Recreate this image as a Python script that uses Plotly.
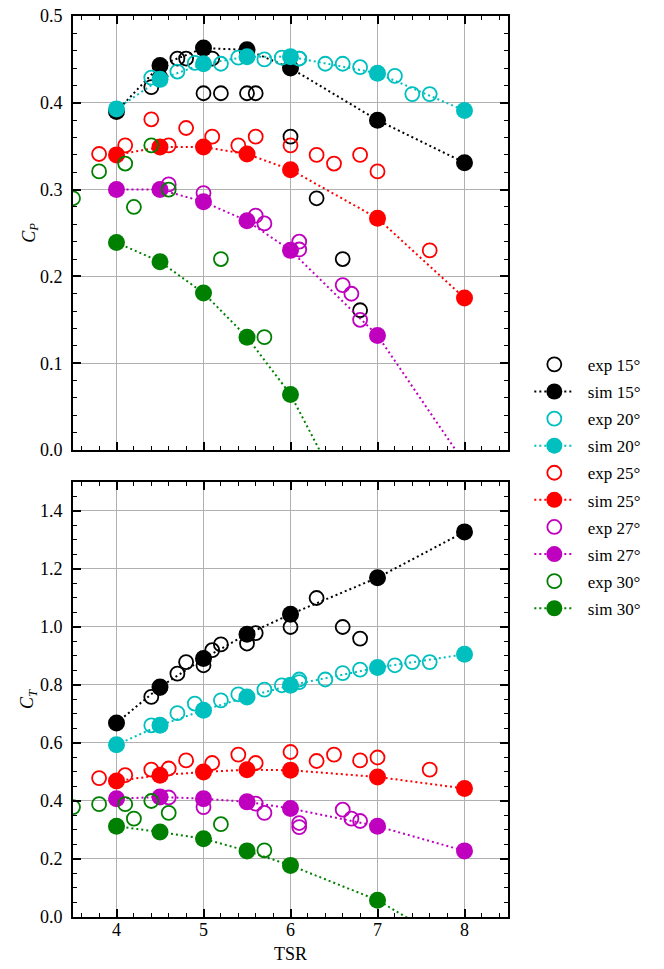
import plotly.graph_objects as go

# ---------------- data ----------------
tsr_sim = [4, 4.5, 5, 5.5, 6, 7, 8]
cp_sim15 = [0.390, 0.443, 0.463, 0.461, 0.440, 0.380, 0.331]
ct_sim15 = [0.669, 0.793, 0.891, 0.975, 1.044, 1.170, 1.328]
cp_sim20 = [0.393, 0.427, 0.445, 0.453, 0.453, 0.434, 0.391]
ct_sim20 = [0.594, 0.661, 0.713, 0.759, 0.799, 0.860, 0.906]
cp_sim25 = [0.340, 0.349, 0.349, 0.341, 0.323, 0.267, 0.175]
ct_sim25 = [0.469, 0.489, 0.500, 0.508, 0.506, 0.483, 0.443]
cp_sim27 = [0.300, 0.300, 0.286, 0.264, 0.230, 0.132, -0.015]
ct_sim27 = [0.408, 0.414, 0.408, 0.397, 0.374, 0.313, 0.228]
cp_sim30 = [0.239, 0.217, 0.181, 0.130, 0.064, -0.128, -0.35]
ct_sim30 = [0.313, 0.293, 0.270, 0.228, 0.178, 0.058, -0.12]

tsr_exp15 = [4.4, 4.5, 4.7, 4.8, 5.0, 5.1, 5.2, 5.5, 5.6, 6.0, 6.3, 6.6, 6.8]
cp_exp15 = [0.418, 0.430, 0.451, 0.451, 0.411, 0.451, 0.411, 0.411, 0.411, 0.361, 0.290, 0.220, 0.161]
ct_exp15 = [0.759, 0.790, 0.839, 0.879, 0.868, 0.920, 0.940, 0.943, 0.979, 1.000, 1.100, 1.000, 0.960]

tsr_exp20 = [4.4, 4.7, 4.9, 5.2, 5.4, 5.7, 5.9, 6.1, 6.1, 6.4, 6.6, 6.8, 7.2, 7.4, 7.6]
cp_exp20 = [0.429, 0.436, 0.446, 0.445, 0.452, 0.450, 0.452, 0.451, 0.451, 0.445, 0.445, 0.441, 0.431, 0.410, 0.410]
ct_exp20 = [0.661, 0.703, 0.736, 0.747, 0.768, 0.784, 0.799, 0.819, 0.810, 0.819, 0.841, 0.853, 0.868, 0.879, 0.879]

tsr_exp25 = [3.8, 4.1, 4.4, 4.6, 4.8, 5.1, 5.4, 5.6, 6.0, 6.3, 6.5, 6.8, 7.0, 7.6]
cp_exp25 = [0.341, 0.351, 0.381, 0.351, 0.371, 0.361, 0.351, 0.361, 0.351, 0.340, 0.330, 0.340, 0.321, 0.230]
ct_exp25 = [0.479, 0.489, 0.508, 0.512, 0.540, 0.531, 0.560, 0.531, 0.569, 0.538, 0.560, 0.540, 0.550, 0.508]

tsr_exp27 = [4.6, 5.0, 5.6, 5.7, 6.1, 6.1, 6.6, 6.7, 6.8]
cp_exp27 = [0.306, 0.296, 0.270, 0.261, 0.240, 0.231, 0.190, 0.180, 0.150]
ct_exp27 = [0.412, 0.379, 0.391, 0.359, 0.324, 0.310, 0.370, 0.339, 0.331]

tsr_exp30 = [3.5, 3.8, 4.1, 4.2, 4.4, 4.6, 5.2, 5.7]
cp_exp30 = [0.290, 0.321, 0.330, 0.280, 0.351, 0.300, 0.220, 0.130]
ct_exp30 = [0.379, 0.389, 0.389, 0.339, 0.400, 0.359, 0.320, 0.230]

angles = ["15°", "20°", "25°", "27°", "30°"]
colors = ["#000000", "#00BFBF", "#FF0000", "#BF00BF", "#008000"]
exp_sets = [(tsr_exp15, cp_exp15, ct_exp15), (tsr_exp20, cp_exp20, ct_exp20),
            (tsr_exp25, cp_exp25, ct_exp25), (tsr_exp27, cp_exp27, ct_exp27),
            (tsr_exp30, cp_exp30, ct_exp30)]
sim_sets = [(cp_sim15, ct_sim15), (cp_sim20, ct_sim20), (cp_sim25, ct_sim25),
            (cp_sim27, ct_sim27), (cp_sim30, ct_sim30)]

FONT = "Liberation Serif"
FS = 18
PAD = "\u00a0\u00a0"  # small gap between legend symbol and text
fig = go.Figure()

for i, ang in enumerate(angles):
    col = colors[i]
    tx, cpe, cte = exp_sets[i]
    cps, cts = sim_sets[i]
    for (yv, ya, show) in [(cpe, "y", True), (cte, "y2", False)]:
        fig.add_trace(go.Scatter(
            x=tx, y=yv, mode="markers", name=PAD + "exp " + ang,
            legendgroup="e" + ang, showlegend=show,
            xaxis="x" if ya == "y" else "x2", yaxis=ya,
            marker=dict(symbol="circle-open", size=14, color=col,
                        line=dict(width=1.8, color=col))))
    for (yv, ya, show) in [(cps, "y", True), (cts, "y2", False)]:
        fig.add_trace(go.Scatter(
            x=tsr_sim, y=yv, mode="lines+markers", name=PAD + "sim " + ang,
            legendgroup="s" + ang, showlegend=show,
            xaxis="x" if ya == "y" else "x2", yaxis=ya,
            line=dict(color=col, width=2, dash="2px,3px"),
            marker=dict(symbol="circle", size=17, color=col)))

axis_common = dict(
    showline=True, linecolor="black", linewidth=2, mirror="allticks",
    ticks="inside", ticklen=8, tickwidth=1.5, tickcolor="black",
    showgrid=True, gridcolor="#b0b0b0", gridwidth=1.2, zeroline=False,
    automargin=False,
    tickfont=dict(family=FONT, size=FS, color="black"),
)

top_dom = [0.5183, 1.0]
bot_dom = [0.0, 0.4828]

fig.update_layout(
    width=664, height=969,
    margin=dict(l=73, r=156, t=16, b=52),
    paper_bgcolor="white", plot_bgcolor="white",
    font=dict(family=FONT, size=FS, color="black"),
    xaxis=dict(axis_common, range=[3.5, 8.5], dtick=1, tick0=0, domain=[0, 1],
               anchor="y", showticklabels=False,
               minor=dict(ticks="inside", ticklen=4, tickwidth=1.2, dtick=0.2, tick0=0, tickcolor="black", showgrid=False)),
    yaxis=dict(axis_common, range=[0, 0.5], dtick=0.1, tick0=0, domain=top_dom,
               anchor="x", tickformat=".1f", ticklabelstandoff=5,
               title=dict(text="<i>C<sub>P</sub></i>", font=dict(family=FONT, size=FS), standoff=0),
               minor=dict(ticks="inside", ticklen=4, tickwidth=1.2, dtick=0.02, tick0=0, tickcolor="black", showgrid=False)),
    xaxis2=dict(axis_common, range=[3.5, 8.5], dtick=1, tick0=0, domain=[0, 1],
                anchor="y2", ticklabelstandoff=-5,
                title=dict(text="TSR", font=dict(family=FONT, size=FS), standoff=9),
                minor=dict(ticks="inside", ticklen=4, tickwidth=1.2, dtick=0.2, tick0=0, tickcolor="black", showgrid=False)),
    yaxis2=dict(axis_common, range=[0, 1.5], dtick=0.2, tick0=0, domain=bot_dom,
                anchor="x2", tickformat=".1f", ticklabelstandoff=5,
                title=dict(text="<i>C<sub>T</sub></i>", font=dict(family=FONT, size=FS), standoff=0),
                minor=dict(ticks="inside", ticklen=4, tickwidth=1.2, dtick=0.05, tick0=0, tickcolor="black", showgrid=False)),
    legend=dict(x=1.049, xanchor="left", y=0.478, yanchor="middle",
                font=dict(family=FONT, size=17, color="black"),
                tracegroupgap=2, itemwidth=40,
                bgcolor="rgba(0,0,0,0)", borderwidth=0),
    showlegend=True,
)

fig.write_html("out.html")
